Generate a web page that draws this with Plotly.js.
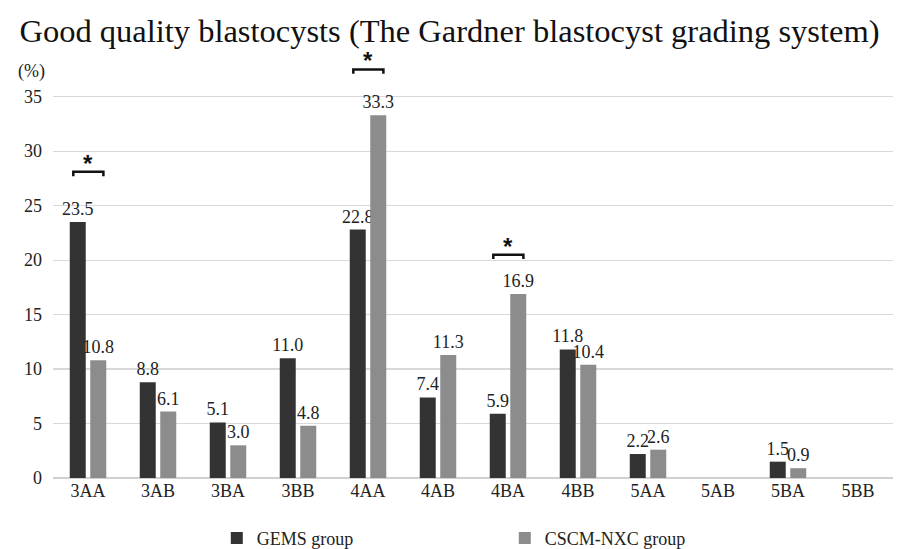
<!DOCTYPE html>
<html>
<head>
<meta charset="utf-8">
<script src="https://cdn.plot.ly/plotly-3.0.1.min.js"></script>
<style>html,body{margin:0;padding:0;background:#fff;}#chart{width:899px;height:549px;}</style>
</head>
<body>
<div id="chart"></div>
<script>
var categories = ['3AA','3AB','3BA','3BB','4AA','4AB','4BA','4BB','5AA','5AB','5BA','5BB'];
var gemsValues = [23.5, 8.8, 5.1, 11.0, 22.8, 7.4, 5.9, 11.8, 2.2, 0, 1.5, 0];
var cscmValues = [10.8, 6.1, 3.0, 4.8, 33.3, 11.3, 16.9, 10.4, 2.6, 0, 0.9, 0];
var seriesNames = ['GEMS group', 'CSCM-NXC group'];
var significantCategories = ['3AA', '4AA', '4BA'];
var bracketHeights = [28.1, 37.5, 20.5];
var yTicks = [0, 5, 10, 15, 20, 25, 30, 35];

var FONT = '"Liberation Serif", "Times New Roman", serif';
function labels(arr){ return arr.map(function(v){ return v === 0 ? '' : v.toFixed(1); }); }

var common = {
  type: 'bar', x: categories, textposition: 'outside', textangle: 0,
  constraintext: 'none', cliponaxis: false,
  textfont: {family: FONT, size: 18, color: '#222'}, hoverinfo: 'skip'
};
var t1 = Object.assign({}, common, {name: seriesNames[0], y: gemsValues, text: labels(gemsValues),
  marker: {color: '#333333', line: {color: '#222', width: 0}}});
var t2 = Object.assign({}, common, {name: seriesNames[1], y: cscmValues, text: labels(cscmValues),
  marker: {color: '#8c8c8c', line: {color: '#666', width: 0}}});

var shapes = [], annotations = [];
significantCategories.forEach(function(c, k){
  var i = categories.indexOf(c);
  var top = bracketHeights[k];
  var x0 = i - 0.21, x1 = i + 0.22, tick = 0.4;
  shapes.push({type: 'path', xref: 'x', yref: 'y',
    path: 'M ' + x0 + ',' + (top - tick) + ' L ' + x0 + ',' + top + ' L ' + x1 + ',' + top + ' L ' + x1 + ',' + (top - tick),
    line: {color: '#111', width: 2.5}});
  annotations.push({xref: 'x', yref: 'y', x: i, y: top, text: '<b>*</b>', showarrow: false,
    yanchor: 'bottom', yshift: -7, font: {family: 'Liberation Sans, Arial, sans-serif', size: 24, color: '#111'}});
});
annotations.push({xref: 'paper', yref: 'paper', x: -0.026, y: 0.981, xanchor: 'center', yanchor: 'middle',
  text: '(%)', showarrow: false, font: {family: FONT, size: 18, color: '#222'}});

var layout = {
  width: 899, height: 549,
  margin: {l: 53, r: 6, t: 64, b: 71, autoexpand: false},
  paper_bgcolor: '#fff', plot_bgcolor: '#fff',
  title: {text: 'Good quality blastocysts (The Gardner blastocyst grading system)',
    font: {family: FONT, size: 32.5, color: '#111'}, x: 0.5, xanchor: 'center', xref: 'container', y: 0.945, yanchor: 'middle'},
  barmode: 'group', bargap: 0.414, bargroupgap: 0.22,
  showlegend: true,
  legend: {orientation: 'h', x: 0.195, xanchor: 'left', y: -0.101, yanchor: 'top',
    entrywidth: 243, font: {family: FONT, size: 18, color: '#222'}, traceorder: 'normal'},
  xaxis: {type: 'category', showgrid: false, zeroline: false, showline: false, ticks: '',
    automargin: false, tickfont: {family: FONT, size: 18, color: '#222'}},
  yaxis: {range: [0, 38], tickvals: yTicks, showgrid: true, gridcolor: '#d9d9d9', gridwidth: 1.2,
    automargin: false, zeroline: true, zerolinecolor: '#d0d0d0', zerolinewidth: 1.5, showline: false, ticks: '',
    ticklabelstandoff: 10, tickfont: {family: FONT, size: 18, color: '#222'}},
  shapes: shapes, annotations: annotations
};
Plotly.newPlot('chart', [t1, t2], layout, {displayModeBar: false, staticPlot: true});
</script>
</body>
</html>
